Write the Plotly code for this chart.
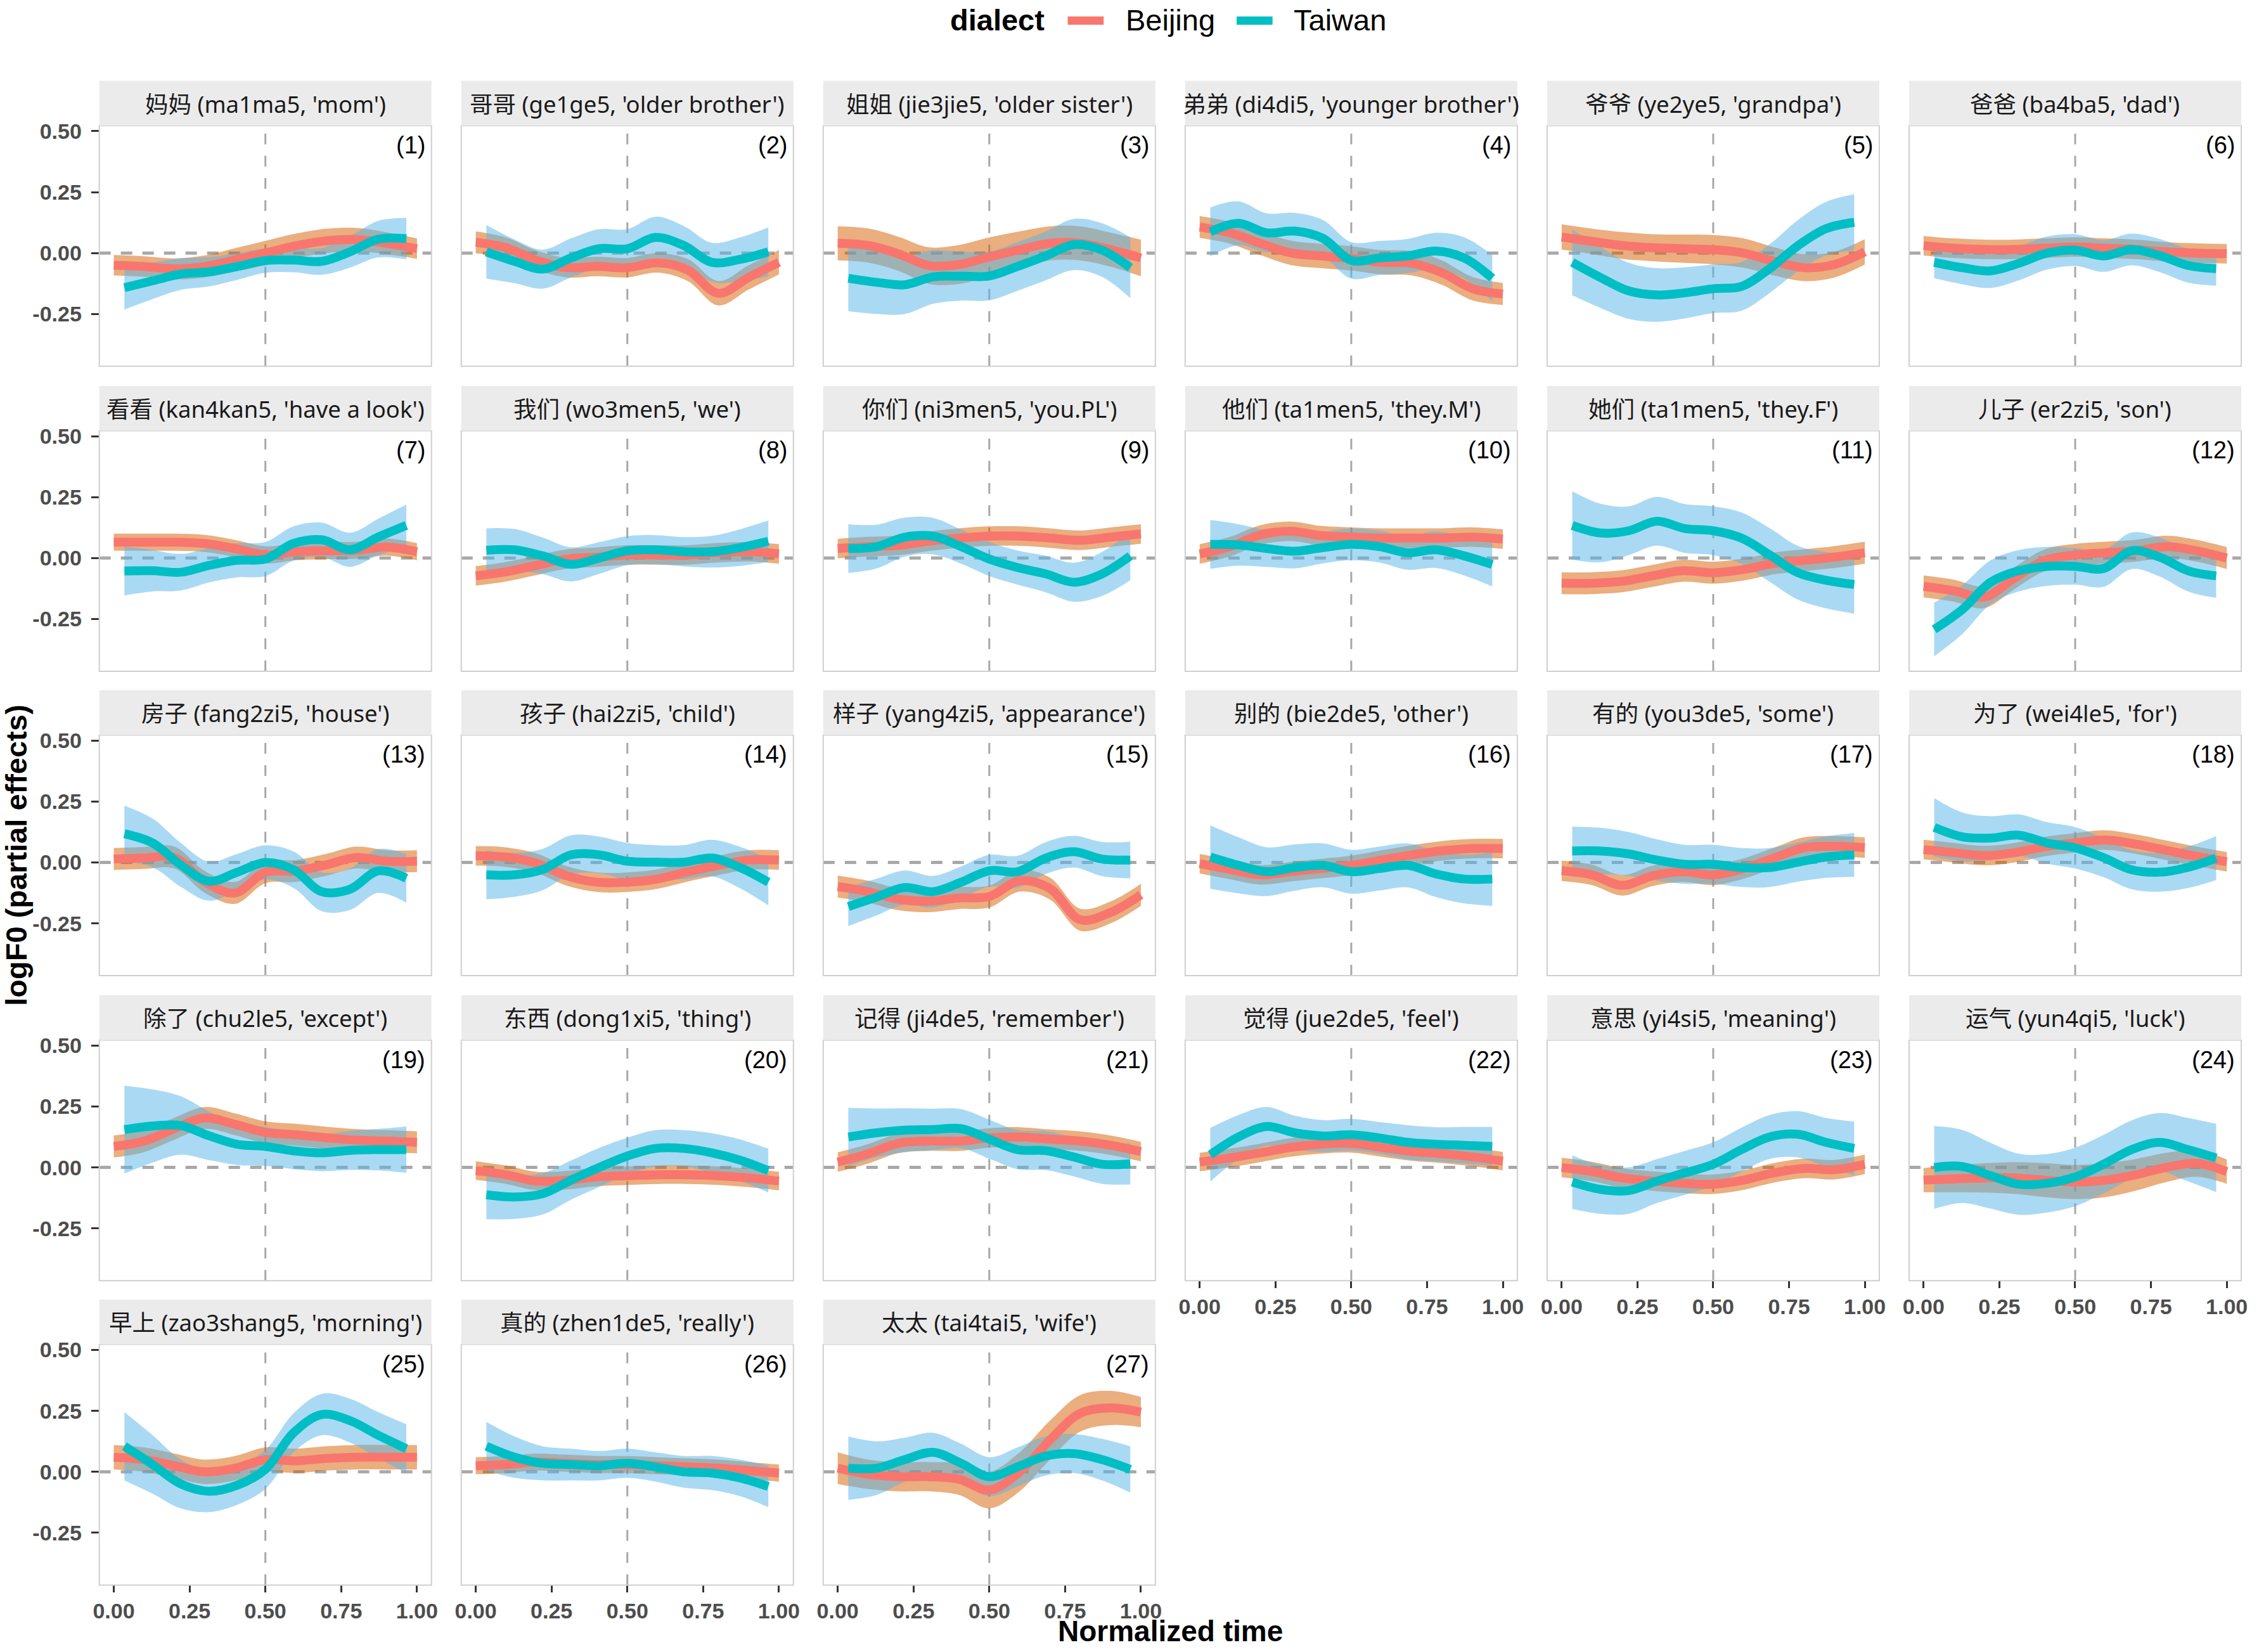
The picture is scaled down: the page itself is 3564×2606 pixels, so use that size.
import plotly.graph_objects as go

W, H = 3564, 2606          # page (window) size
PAGE_MARGIN = 8            # default body margin of the html page
W_FIG, H_FIG = W - 2 * PAGE_MARGIN, H - PAGE_MARGIN

# ---------------- data ----------------
XB = [0.0, 0.1, 0.2, 0.3, 0.4, 0.5, 0.6, 0.7, 0.8, 0.9, 1.0]
XT = [0.035, 0.128, 0.221, 0.314, 0.407, 0.5, 0.593, 0.686, 0.779, 0.872, 0.965]

TITLES = [
    "妈妈 (ma1ma5, 'mom')", "哥哥 (ge1ge5, 'older brother')", "姐姐 (jie3jie5, 'older sister')",
    "弟弟 (di4di5, 'younger brother')", "爷爷 (ye2ye5, 'grandpa')", "爸爸 (ba4ba5, 'dad')",
    "看看 (kan4kan5, 'have a look')", "我们 (wo3men5, 'we')", "你们 (ni3men5, 'you.PL')",
    "他们 (ta1men5, 'they.M')", "她们 (ta1men5, 'they.F')", "儿子 (er2zi5, 'son')",
    "房子 (fang2zi5, 'house')", "孩子 (hai2zi5, 'child')", "样子 (yang4zi5, 'appearance')",
    "别的 (bie2de5, 'other')", "有的 (you3de5, 'some')", "为了 (wei4le5, 'for')",
    "除了 (chu2le5, 'except')", "东西 (dong1xi5, 'thing')", "记得 (ji4de5, 'remember')",
    "觉得 (jue2de5, 'feel')", "意思 (yi4si5, 'meaning')", "运气 (yun4qi5, 'luck')",
    "早上 (zao3shang5, 'morning')", "真的 (zhen1de5, 'really')", "太太 (tai4tai5, 'wife')",
]

P01_BJ = [-0.05, -0.055, -0.065, -0.055, -0.028, 0.0, 0.03, 0.05, 0.055, 0.04, 0.018]
P01_BJ_CI = [0.042, 0.042, 0.043, 0.045, 0.048, 0.05, 0.05, 0.05, 0.048, 0.045, 0.042]
P01_TW = [-0.142, -0.114, -0.086, -0.077, -0.055, -0.031, -0.029, -0.034, 0.005, 0.057, 0.059]
P01_TW_CI = [0.09, 0.075, 0.065, 0.06, 0.055, 0.05, 0.05, 0.055, 0.065, 0.075, 0.085]

P02_BJ = [0.044, 0.022, -0.03, -0.06, -0.055, -0.06, -0.04, -0.07, -0.165, -0.1, -0.038]
P02_BJ_CI = [0.045, 0.042, 0.04, 0.04, 0.04, 0.04, 0.04, 0.045, 0.05, 0.05, 0.05]
P02_TW = [0.005, -0.034, -0.066, -0.02, 0.018, 0.018, 0.064, 0.031, -0.038, -0.026, 0.005]
P02_TW_CI = [0.11, 0.09, 0.08, 0.08, 0.08, 0.08, 0.085, 0.08, 0.08, 0.09, 0.1]

P03_BJ = [0.04, 0.031, -0.003, -0.051, -0.047, -0.016, 0.014, 0.04, 0.04, 0.014, -0.02]
P03_BJ_CI = [0.07, 0.07, 0.07, 0.075, 0.08, 0.08, 0.075, 0.07, 0.07, 0.07, 0.075]
P03_TW = [-0.103, -0.12, -0.13, -0.098, -0.095, -0.094, -0.055, -0.012, 0.035, 0.012, -0.06]
P03_TW_CI = [0.135, 0.13, 0.12, 0.11, 0.1, 0.1, 0.1, 0.1, 0.105, 0.11, 0.125]

P04_BJ = [0.107, 0.083, 0.04, 0.001, -0.012, -0.022, -0.038, -0.042, -0.081, -0.146, -0.168]
P04_BJ_CI = [0.045, 0.045, 0.048, 0.05, 0.05, 0.05, 0.05, 0.05, 0.05, 0.048, 0.045]
P04_TW = [0.087, 0.122, 0.083, 0.09, 0.06, -0.03, -0.02, -0.012, 0.008, -0.02, -0.103]
P04_TW_CI = [0.1, 0.09, 0.08, 0.075, 0.075, 0.075, 0.07, 0.07, 0.075, 0.085, 0.095]

P05_BJ = [0.066, 0.048, 0.031, 0.022, 0.018, 0.014, 0.0, -0.034, -0.06, -0.047, 0.005]
P05_BJ_CI = [0.052, 0.052, 0.055, 0.055, 0.058, 0.06, 0.06, 0.058, 0.055, 0.053, 0.052]
P05_TW = [-0.038, -0.1, -0.155, -0.172, -0.163, -0.146, -0.137, -0.064, 0.03, 0.1, 0.126]
P05_TW_CI = [0.135, 0.125, 0.115, 0.11, 0.105, 0.1, 0.1, 0.1, 0.105, 0.11, 0.115]

P06_BJ = [0.03, 0.02, 0.015, 0.015, 0.02, 0.025, 0.02, 0.015, 0.005, 0.0, -0.003]
P06_BJ_CI = [0.04, 0.04, 0.04, 0.04, 0.04, 0.04, 0.04, 0.04, 0.04, 0.04, 0.04]
P06_TW = [-0.038, -0.06, -0.073, -0.042, 0.0, 0.012, -0.012, 0.015, -0.01, -0.051, -0.064]
P06_TW_CI = [0.065, 0.068, 0.07, 0.07, 0.068, 0.065, 0.065, 0.065, 0.068, 0.07, 0.07]

P07_BJ = [0.065, 0.065, 0.065, 0.06, 0.039, 0.013, 0.026, 0.03, 0.032, 0.045, 0.026]
P07_BJ_CI = [0.035, 0.035, 0.035, 0.035, 0.035, 0.035, 0.035, 0.035, 0.035, 0.035, 0.035]
P07_TW = [-0.053, -0.052, -0.058, -0.03, -0.009, -0.004, 0.06, 0.075, 0.034, 0.086, 0.134]
P07_TW_CI = [0.1, 0.085, 0.075, 0.07, 0.07, 0.07, 0.07, 0.07, 0.07, 0.075, 0.085]

P08_BJ = [-0.073, -0.056, -0.03, -0.004, 0.004, 0.013, 0.013, 0.013, 0.022, 0.026, 0.017]
P08_BJ_CI = [0.04, 0.04, 0.04, 0.04, 0.04, 0.04, 0.04, 0.04, 0.04, 0.04, 0.04]
P08_TW = [0.032, 0.034, 0.009, -0.026, 0.0, 0.03, 0.034, 0.026, 0.026, 0.043, 0.069]
P08_TW_CI = [0.09, 0.085, 0.075, 0.07, 0.065, 0.06, 0.06, 0.06, 0.065, 0.075, 0.085]

P09_BJ = [0.039, 0.047, 0.052, 0.069, 0.082, 0.09, 0.09, 0.082, 0.073, 0.086, 0.099]
P09_BJ_CI = [0.04, 0.04, 0.04, 0.04, 0.04, 0.04, 0.04, 0.04, 0.04, 0.04, 0.04]
P09_TW = [0.039, 0.047, 0.086, 0.09, 0.047, -0.004, -0.039, -0.065, -0.099, -0.065, 0.009]
P09_TW_CI = [0.1, 0.09, 0.08, 0.075, 0.07, 0.07, 0.07, 0.075, 0.08, 0.09, 0.1]

P10_BJ = [0.017, 0.047, 0.095, 0.11, 0.092, 0.086, 0.082, 0.082, 0.082, 0.086, 0.078]
P10_BJ_CI = [0.04, 0.04, 0.04, 0.04, 0.04, 0.04, 0.04, 0.04, 0.04, 0.04, 0.04]
P10_TW = [0.056, 0.054, 0.039, 0.028, 0.043, 0.056, 0.047, 0.022, 0.034, 0.009, -0.026]
P10_TW_CI = [0.1, 0.085, 0.075, 0.07, 0.065, 0.065, 0.065, 0.07, 0.075, 0.08, 0.09]

P11_BJ = [-0.103, -0.103, -0.095, -0.073, -0.052, -0.06, -0.047, -0.022, -0.009, 0.004, 0.022]
P11_BJ_CI = [0.045, 0.045, 0.045, 0.045, 0.045, 0.045, 0.045, 0.045, 0.045, 0.045, 0.045]
P11_TW = [0.134, 0.103, 0.112, 0.151, 0.121, 0.112, 0.082, 0.013, -0.06, -0.091, -0.108]
P11_TW_CI = [0.14, 0.12, 0.1, 0.1, 0.1, 0.1, 0.105, 0.11, 0.11, 0.115, 0.12]

P12_BJ = [-0.116, -0.134, -0.16, -0.082, -0.009, 0.013, 0.022, 0.03, 0.047, 0.03, 0.0]
P12_BJ_CI = [0.045, 0.045, 0.045, 0.045, 0.045, 0.045, 0.045, 0.045, 0.045, 0.045, 0.045]
P12_TW = [-0.293, -0.211, -0.099, -0.052, -0.034, -0.034, -0.043, 0.03, 0.004, -0.052, -0.073]
P12_TW_CI = [0.11, 0.1, 0.09, 0.085, 0.08, 0.075, 0.075, 0.075, 0.08, 0.085, 0.09]

P13_BJ = [0.014, 0.018, 0.02, -0.08, -0.125, -0.04, -0.035, -0.01, 0.02, 0.005, 0.005]
P13_BJ_CI = [0.045, 0.045, 0.045, 0.045, 0.045, 0.045, 0.045, 0.045, 0.045, 0.045, 0.045]
P13_TW = [0.118, 0.08, -0.01, -0.077, -0.04, 0.0, -0.03, -0.12, -0.11, -0.035, -0.065]
P13_TW_CI = [0.115, 0.1, 0.09, 0.08, 0.075, 0.07, 0.075, 0.08, 0.085, 0.09, 0.1]

P14_BJ = [0.027, 0.022, -0.003, -0.055, -0.081, -0.081, -0.068, -0.038, -0.012, 0.01, 0.01]
P14_BJ_CI = [0.04, 0.04, 0.04, 0.04, 0.04, 0.04, 0.04, 0.04, 0.04, 0.04, 0.04]
P14_TW = [-0.051, -0.051, -0.029, 0.031, 0.031, 0.005, 0.001, 0.001, 0.018, -0.021, -0.081]
P14_TW_CI = [0.1, 0.09, 0.085, 0.08, 0.075, 0.075, 0.07, 0.07, 0.075, 0.085, 0.095]

P15_BJ = [-0.099, -0.12, -0.151, -0.159, -0.146, -0.14, -0.075, -0.107, -0.235, -0.205, -0.133]
P15_BJ_CI = [0.045, 0.045, 0.045, 0.045, 0.045, 0.045, 0.045, 0.045, 0.045, 0.045, 0.045]
P15_TW = [-0.181, -0.142, -0.103, -0.12, -0.081, -0.034, -0.038, 0.018, 0.044, 0.014, 0.01]
P15_TW_CI = [0.08, 0.075, 0.07, 0.065, 0.065, 0.065, 0.065, 0.065, 0.065, 0.07, 0.075]

P16_BJ = [-0.005, -0.029, -0.051, -0.038, -0.025, -0.012, 0.01, 0.031, 0.048, 0.057, 0.057]
P16_BJ_CI = [0.04, 0.04, 0.04, 0.04, 0.04, 0.04, 0.04, 0.04, 0.04, 0.04, 0.04]
P16_TW = [0.022, -0.012, -0.038, -0.021, -0.012, -0.038, -0.025, -0.012, -0.047, -0.068, -0.068]
P16_TW_CI = [0.13, 0.115, 0.1, 0.095, 0.09, 0.09, 0.09, 0.09, 0.095, 0.1, 0.11]

P17_BJ = [-0.034, -0.051, -0.094, -0.055, -0.038, -0.051, -0.025, 0.018, 0.061, 0.066, 0.061]
P17_BJ_CI = [0.042, 0.042, 0.042, 0.042, 0.042, 0.042, 0.042, 0.042, 0.042, 0.042, 0.042]
P17_TW = [0.047, 0.047, 0.035, 0.01, -0.008, -0.008, -0.021, -0.021, 0.001, 0.022, 0.031]
P17_TW_CI = [0.1, 0.095, 0.09, 0.085, 0.08, 0.08, 0.08, 0.08, 0.08, 0.085, 0.09]

P18_BJ = [0.053, 0.04, 0.028, 0.04, 0.065, 0.08, 0.092, 0.075, 0.05, 0.025, 0.003]
P18_BJ_CI = [0.04, 0.04, 0.04, 0.04, 0.04, 0.04, 0.04, 0.04, 0.04, 0.04, 0.04]
P18_TW = [0.144, 0.105, 0.1, 0.112, 0.08, 0.06, 0.02, -0.03, -0.04, -0.02, 0.018]
P18_TW_CI = [0.12, 0.1, 0.09, 0.085, 0.085, 0.085, 0.08, 0.08, 0.08, 0.085, 0.09]

P19_BJ = [0.086, 0.108, 0.159, 0.203, 0.177, 0.144, 0.134, 0.122, 0.112, 0.108, 0.103]
P19_BJ_CI = [0.045, 0.045, 0.045, 0.045, 0.045, 0.045, 0.045, 0.045, 0.045, 0.045, 0.045]
P19_TW = [0.155, 0.17, 0.172, 0.13, 0.095, 0.086, 0.068, 0.06, 0.07, 0.073, 0.073]
P19_TW_CI = [0.18, 0.15, 0.12, 0.1, 0.085, 0.08, 0.075, 0.075, 0.08, 0.085, 0.095]

P20_BJ = [-0.013, -0.03, -0.056, -0.052, -0.039, -0.034, -0.03, -0.03, -0.034, -0.043, -0.056]
P20_BJ_CI = [0.038, 0.038, 0.038, 0.038, 0.038, 0.038, 0.038, 0.038, 0.038, 0.038, 0.038]
P20_TW = [-0.112, -0.121, -0.108, -0.052, 0.0, 0.047, 0.078, 0.078, 0.06, 0.03, -0.013]
P20_TW_CI = [0.1, 0.09, 0.085, 0.08, 0.08, 0.075, 0.075, 0.075, 0.08, 0.085, 0.09]

P21_BJ = [0.022, 0.056, 0.099, 0.108, 0.108, 0.121, 0.125, 0.116, 0.108, 0.091, 0.065]
P21_BJ_CI = [0.04, 0.04, 0.04, 0.04, 0.04, 0.04, 0.04, 0.04, 0.04, 0.04, 0.04]
P21_TW = [0.125, 0.142, 0.153, 0.156, 0.159, 0.116, 0.073, 0.069, 0.043, 0.013, 0.015]
P21_TW_CI = [0.12, 0.1, 0.09, 0.085, 0.08, 0.08, 0.08, 0.08, 0.08, 0.08, 0.085]

P22_BJ = [0.022, 0.039, 0.06, 0.082, 0.095, 0.099, 0.082, 0.065, 0.056, 0.043, 0.026]
P22_BJ_CI = [0.038, 0.038, 0.038, 0.038, 0.038, 0.038, 0.038, 0.038, 0.038, 0.038, 0.038]
P22_TW = [0.052, 0.125, 0.168, 0.142, 0.129, 0.134, 0.121, 0.103, 0.095, 0.091, 0.086]
P22_TW_CI = [0.11, 0.09, 0.08, 0.07, 0.065, 0.065, 0.065, 0.07, 0.07, 0.075, 0.08]

P23_BJ = [0.0, -0.017, -0.043, -0.056, -0.065, -0.069, -0.052, -0.022, -0.004, -0.009, 0.013]
P23_BJ_CI = [0.04, 0.04, 0.04, 0.04, 0.04, 0.04, 0.04, 0.04, 0.04, 0.04, 0.04]
P23_TW = [-0.06, -0.09, -0.095, -0.056, -0.022, 0.013, 0.073, 0.125, 0.136, 0.103, 0.078]
P23_TW_CI = [0.11, 0.1, 0.095, 0.09, 0.09, 0.09, 0.09, 0.09, 0.095, 0.1, 0.11]

P24_BJ = [-0.052, -0.047, -0.043, -0.043, -0.052, -0.06, -0.052, -0.03, 0.0, 0.017, -0.017]
P24_BJ_CI = [0.05, 0.055, 0.06, 0.065, 0.07, 0.07, 0.07, 0.065, 0.06, 0.055, 0.05]
P24_TW = [0.0, 0.004, -0.034, -0.069, -0.065, -0.039, 0.013, 0.073, 0.103, 0.073, 0.039]
P24_TW_CI = [0.17, 0.15, 0.135, 0.125, 0.12, 0.12, 0.12, 0.12, 0.12, 0.13, 0.14]

P25_BJ = [0.06, 0.05, 0.025, 0.0, 0.015, 0.05, 0.045, 0.055, 0.06, 0.06, 0.06]
P25_BJ_CI = [0.05, 0.05, 0.05, 0.05, 0.05, 0.05, 0.05, 0.05, 0.05, 0.05, 0.05]
P25_TW = [0.105, 0.03, -0.05, -0.08, -0.055, 0.01, 0.16, 0.235, 0.21, 0.15, 0.095]
P25_TW_CI = [0.14, 0.12, 0.1, 0.085, 0.08, 0.08, 0.08, 0.085, 0.09, 0.095, 0.1]

P26_BJ = [0.025, 0.03, 0.04, 0.035, 0.03, 0.03, 0.025, 0.02, 0.015, 0.005, -0.005]
P26_BJ_CI = [0.035, 0.035, 0.035, 0.035, 0.035, 0.035, 0.035, 0.035, 0.035, 0.035, 0.035]
P26_TW = [0.105, 0.06, 0.035, 0.03, 0.025, 0.035, 0.02, 0.0, -0.005, -0.025, -0.06]
P26_TW_CI = [0.1, 0.085, 0.07, 0.065, 0.06, 0.06, 0.06, 0.065, 0.07, 0.075, 0.085]

P27_BJ = [0.015, -0.01, -0.02, -0.02, -0.03, -0.075, 0.0, 0.13, 0.24, 0.262, 0.245]
P27_BJ_CI = [0.065, 0.06, 0.06, 0.06, 0.065, 0.075, 0.08, 0.08, 0.075, 0.07, 0.062]
P27_TW = [0.015, 0.015, 0.05, 0.08, 0.035, -0.02, 0.02, 0.065, 0.075, 0.05, 0.01]
P27_TW_CI = [0.13, 0.11, 0.09, 0.08, 0.08, 0.08, 0.08, 0.08, 0.08, 0.085, 0.095]

PANELS = [
    (P01_BJ, P01_BJ_CI, P01_TW, P01_TW_CI), (P02_BJ, P02_BJ_CI, P02_TW, P02_TW_CI),
    (P03_BJ, P03_BJ_CI, P03_TW, P03_TW_CI), (P04_BJ, P04_BJ_CI, P04_TW, P04_TW_CI),
    (P05_BJ, P05_BJ_CI, P05_TW, P05_TW_CI), (P06_BJ, P06_BJ_CI, P06_TW, P06_TW_CI),
    (P07_BJ, P07_BJ_CI, P07_TW, P07_TW_CI), (P08_BJ, P08_BJ_CI, P08_TW, P08_TW_CI),
    (P09_BJ, P09_BJ_CI, P09_TW, P09_TW_CI), (P10_BJ, P10_BJ_CI, P10_TW, P10_TW_CI),
    (P11_BJ, P11_BJ_CI, P11_TW, P11_TW_CI), (P12_BJ, P12_BJ_CI, P12_TW, P12_TW_CI),
    (P13_BJ, P13_BJ_CI, P13_TW, P13_TW_CI), (P14_BJ, P14_BJ_CI, P14_TW, P14_TW_CI),
    (P15_BJ, P15_BJ_CI, P15_TW, P15_TW_CI), (P16_BJ, P16_BJ_CI, P16_TW, P16_TW_CI),
    (P17_BJ, P17_BJ_CI, P17_TW, P17_TW_CI), (P18_BJ, P18_BJ_CI, P18_TW, P18_TW_CI),
    (P19_BJ, P19_BJ_CI, P19_TW, P19_TW_CI), (P20_BJ, P20_BJ_CI, P20_TW, P20_TW_CI),
    (P21_BJ, P21_BJ_CI, P21_TW, P21_TW_CI), (P22_BJ, P22_BJ_CI, P22_TW, P22_TW_CI),
    (P23_BJ, P23_BJ_CI, P23_TW, P23_TW_CI), (P24_BJ, P24_BJ_CI, P24_TW, P24_TW_CI),
    (P25_BJ, P25_BJ_CI, P25_TW, P25_TW_CI), (P26_BJ, P26_BJ_CI, P26_TW, P26_TW_CI),
    (P27_BJ, P27_BJ_CI, P27_TW, P27_TW_CI),
]

X_TICKS = [0.0, 0.25, 0.5, 0.75, 1.0]
X_TICKTEXT = ["0.00", "0.25", "0.50", "0.75", "1.00"]
Y_TICKS = [-0.25, 0.0, 0.25, 0.5]
Y_TICKTEXT = ["-0.25", "0.00", "0.25", "0.50"]
SERIES = ["Beijing", "Taiwan"]

# ---------------- style / layout ----------------
BJ_LINE = "#F8766D"
TW_LINE = "#00BFC4"
BJ_FILL = "rgba(213,94,0,0.5)"
TW_FILL = "rgba(86,180,233,0.5)"
LINE_W = 14

COL_LEFT = [155.5 + k * 574.3 for k in range(6)]
ROW_TOP = [197, 680, 1162, 1645, 2127]
PW, PH, STRIP = 527, 381, 71
XR = [-0.0478, 1.0478]
YR = [-0.4645, 0.5225]

TICK_FONT = dict(family="Liberation Sans, Arial, sans-serif", size=34, color="#4D4D4D", weight="bold")
STRIP_FONT = dict(family="Noto Sans, Noto Sans CJK SC, sans-serif", size=36.5, color="#1A1A1A")
NUM_FONT = dict(family="Liberation Sans, Arial, sans-serif", size=38, color="#000000")


def px_x(p):
    """page pixel x -> paper fraction"""
    return (p - PAGE_MARGIN) / W_FIG


def px_y(p):
    """page pixel y -> paper fraction"""
    return 1 - (p - PAGE_MARGIN) / H_FIG


fig = go.Figure()
layout = dict(
    width=W_FIG, height=H_FIG, margin=dict(l=0, r=0, t=0, b=0),
    paper_bgcolor="white", plot_bgcolor="white", showlegend=False,
)
shapes = []
annotations = []

for i, (bj, bj_ci, tw, tw_ci) in enumerate(PANELS):
    n = i + 1
    r, c = divmod(i, 6)
    L, T = COL_LEFT[c], ROW_TOP[r]
    xs = "" if n == 1 else str(n)
    xref, yref = "x" + xs, "y" + xs

    show_x = i >= 21
    show_y = c == 0
    layout["xaxis" + xs] = dict(
        domain=[px_x(L), px_x(L + PW)], range=XR, anchor=yref,
        showgrid=False, zeroline=False, showline=False,
        tickmode="array", tickvals=X_TICKS, ticktext=X_TICKTEXT,
        ticks="outside" if show_x else "", ticklen=11, tickwidth=3, tickcolor="#333333",
        showticklabels=show_x, tickfont=TICK_FONT, ticklabelstandoff=0,
    )
    layout["yaxis" + xs] = dict(
        domain=[px_y(T + PH), px_y(T)], range=YR, anchor=xref,
        showgrid=False, zeroline=False, showline=False,
        tickmode="array", tickvals=Y_TICKS, ticktext=Y_TICKTEXT,
        ticks="outside" if show_y else "", ticklen=12, tickwidth=3, tickcolor="#333333",
        showticklabels=show_y, tickfont=TICK_FONT, ticklabelstandoff=8,
    )

    # confidence bands
    for xv, mean, ci, fill in ((XB, bj, bj_ci, BJ_FILL), (XT, tw, tw_ci, TW_FILL)):
        lo = [m - e for m, e in zip(mean, ci)]
        hi = [m + e for m, e in zip(mean, ci)]
        fig.add_trace(go.Scatter(x=xv, y=lo, mode="lines", line=dict(width=0, shape="spline"),
                                 xaxis=xref, yaxis=yref, hoverinfo="skip"))
        fig.add_trace(go.Scatter(x=xv, y=hi, mode="lines", line=dict(width=0, shape="spline"),
                                 fill="tonexty", fillcolor=fill,
                                 xaxis=xref, yaxis=yref, hoverinfo="skip"))
    # fitted lines
    fig.add_trace(go.Scatter(x=XB, y=bj, mode="lines", name=SERIES[0],
                             line=dict(color=BJ_LINE, width=LINE_W, shape="spline"),
                             xaxis=xref, yaxis=yref))
    fig.add_trace(go.Scatter(x=XT, y=tw, mode="lines", name=SERIES[1],
                             line=dict(color=TW_LINE, width=LINE_W, shape="spline"),
                             xaxis=xref, yaxis=yref))

    # reference lines
    shapes.append(dict(type="line", xref=xref + " domain", yref=yref, x0=0, x1=1, y0=0, y1=0,
                       line=dict(color="#A8A8A8", width=5, dash="18px,16px"), layer="below"))
    shapes.append(dict(type="line", xref=xref, yref=yref + " domain", x0=0.5, x1=0.5, y0=0, y1=1,
                       line=dict(color="#A8A8A8", width=3, dash="17px,18px"), layer="below"))
    # panel border
    shapes.append(dict(type="rect", xref="paper", yref="paper",
                       x0=px_x(L), x1=px_x(L + PW), y0=px_y(T + PH), y1=px_y(T),
                       line=dict(color="#CFCFCF", width=2), fillcolor="rgba(0,0,0,0)", layer="above"))
    # strip
    shapes.append(dict(type="rect", xref="paper", yref="paper",
                       x0=px_x(L), x1=px_x(L + PW), y0=px_y(T), y1=px_y(T - STRIP),
                       line=dict(width=0), fillcolor="#EBEBEB", layer="above"))
    annotations.append(dict(text=TITLES[i], xref="paper", yref="paper",
                            x=px_x(L + PW / 2), y=px_y(T - STRIP / 2 + 1),
                            xanchor="center", yanchor="middle", showarrow=False, font=STRIP_FONT))
    annotations.append(dict(text=f"({n})", xref="paper", yref="paper",
                            x=px_x(L + PW - 8), y=px_y(T + 31),
                            xanchor="right", yanchor="middle", showarrow=False, font=NUM_FONT))

# axis titles
TITLE_FONT = dict(family="Liberation Sans, Arial, sans-serif", size=46, color="#000000", weight="bold")
annotations.append(dict(text="Normalized time", xref="paper", yref="paper",
                        x=px_x(1855), y=0, xanchor="center", yanchor="bottom", yshift=-3,
                        showarrow=False, font=TITLE_FONT))
annotations.append(dict(text="logF0 (partial effects)", xref="paper", yref="paper",
                        x=px_x(24), y=px_y(1352), xanchor="center", yanchor="middle",
                        textangle=-90, showarrow=False, font=dict(TITLE_FONT, size=47)))

# legend (drawn manually)
LEG_FONT = dict(family="Liberation Sans, Arial, sans-serif", size=47, color="#000000")
LEG_Y = 30
annotations.append(dict(text="dialect", xref="paper", yref="paper", x=px_x(1503), y=px_y(LEG_Y),
                        xanchor="left", yanchor="middle", showarrow=False,
                        font=dict(LEG_FONT, weight="bold")))
for name, color, sx, tx in ((SERIES[0], BJ_LINE, 1692, 1782), (SERIES[1], TW_LINE, 1960, 2049)):
    shapes.append(dict(type="rect", xref="paper", yref="paper",
                       x0=px_x(sx), x1=px_x(sx + 57), y0=px_y(LEG_Y + 7), y1=px_y(LEG_Y - 6),
                       line=dict(width=0), fillcolor=color))
    annotations.append(dict(text=name, xref="paper", yref="paper", x=px_x(tx), y=px_y(LEG_Y),
                            xanchor="left", yanchor="middle", showarrow=False, font=LEG_FONT))

layout["shapes"] = shapes
layout["annotations"] = annotations
fig.update_layout(**layout)
fig.write_html("out.html")
